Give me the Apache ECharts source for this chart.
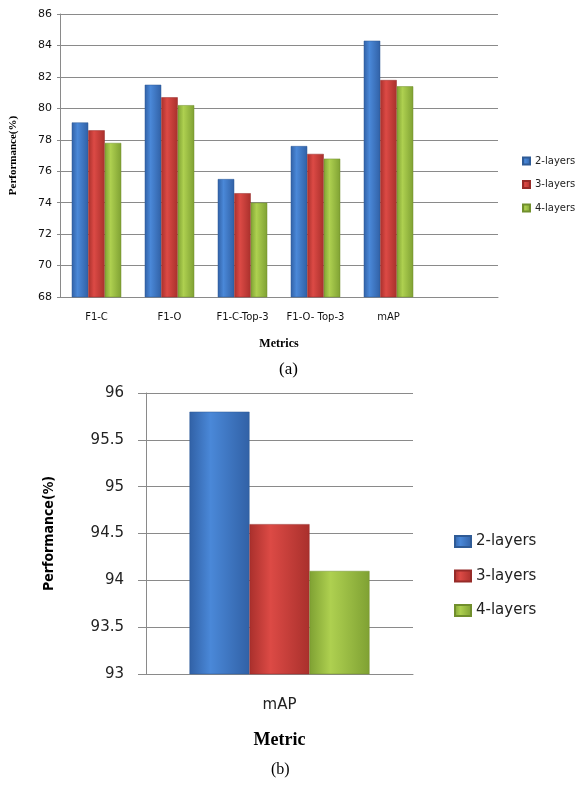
<!DOCTYPE html>
<html>
<head>
<meta charset="utf-8">
<script src="https://cdn.jsdelivr.net/npm/echarts@6/dist/echarts.min.js"></script>
<style>
  html, body { margin: 0; padding: 0; background: #fff; }
  #chart { width: 577px; height: 789px; }
</style>
</head>
<body>
<div id="chart"></div>
<script>
// (a) per metric
const categories = ['F1-C', 'F1-O', 'F1-C-Top-3', 'F1-O- Top-3', 'mAP', '']
const layers2 = [79.1, 81.5, 75.5, 77.6, 84.3]
const layers3 = [78.6, 80.7, 74.6, 77.1, 81.8]
const layers4 = [77.8, 80.2, 74.0, 76.8, 81.4]
const yTicksA = [68, 86, 2]   // min, max, step

// (b) single metric
const categoriesB = ['mAP']
const map2 = [95.8]
const map3 = [94.6]
const map4 = [94.1]
const yTicksB = [93, 96, 0.5]

const names = ['2-layers', '3-layers', '4-layers']

// excel-ish shaded bars
const grad = (a, b) => ({
    type: 'linear', x: 0, y: 0, x2: 1, y2: 0,
    colorStops: [ { offset: 0, color: b }, { offset: 0.35, color: a }, { offset: 1, color: b } ]
})
const fills = [ grad('#4a88d8', '#3161a6'), grad('#dc4a45', '#a9302c'), grad('#aed050', '#7fa133') ]
const edges = [ '#2f5b96', '#962b28', '#718f2d' ]

const chart = echarts.init(document.getElementById('chart'), null, { renderer: 'canvas' })

const bar = (i, data, axis, width) => ({
    name: names[i], type: 'bar', data: data,
    xAxisIndex: axis, yAxisIndex: axis,
    barWidth: width, barGap: '0%',
    itemStyle: { color: fills[i], borderColor: edges[i], borderWidth: 0.5 },
    emphasis: { disabled: true }
})

const gridLine = { show: true, lineStyle: { color: '#8a8a8a', width: 1 } }

chart.setOption({
    animation: false,
    title: [
        { text: '(a)', left: 'center', top: 356, textStyle: { fontFamily: 'Liberation Serif', fontWeight: 'normal', fontSize: 17, color: '#000' } },
        { text: '(b)', left: 266, top: 757, textStyle: { fontFamily: 'Liberation Serif', fontWeight: 'normal', fontSize: 16, color: '#000' } }
    ],
    legend: [
        {
            data: names, orient: 'vertical', left: 517, top: 151,
            itemWidth: 7, itemHeight: 7, itemGap: 13.5, icon: 'rect',
            textStyle: { fontFamily: 'DejaVu Sans', fontSize: 10, color: '#222' }
        },
        {
            data: names, orient: 'vertical', left: 449, top: 529,
            itemWidth: 16, itemHeight: 11, itemGap: 19.5, icon: 'rect',
            textStyle: { fontFamily: 'DejaVu Sans', fontSize: 15, color: '#222' }
        }
    ],
    grid: [
        { left: 60, top: 14, width: 438, height: 283 },
        { left: 146, top: 393, width: 267, height: 281 }
    ],
    xAxis: [
        {
            type: 'category', gridIndex: 0, data: categories,
            axisLine: { lineStyle: { color: '#8a8a8a' } }, axisTick: { show: false },
            axisLabel: { fontFamily: 'DejaVu Sans', fontSize: 10, color: '#111', margin: 15, interval: 0 },
            name: 'Metrics', nameLocation: 'middle', nameGap: 41,
            nameTextStyle: { fontFamily: 'Liberation Serif', fontWeight: 'bold', fontSize: 12, color: '#000' }
        },
        {
            type: 'category', gridIndex: 1, data: categoriesB,
            axisLine: { lineStyle: { color: '#8a8a8a' } }, axisTick: { show: false },
            axisLabel: { fontFamily: 'DejaVu Sans', fontSize: 15, color: '#222', margin: 24 },
            name: 'Metric', nameLocation: 'middle', nameGap: 57,
            nameTextStyle: { fontFamily: 'Liberation Serif', fontWeight: 'bold', fontSize: 18, color: '#000' }
        }
    ],
    yAxis: [
        {
            type: 'value', gridIndex: 0, min: yTicksA[0], max: yTicksA[1], interval: yTicksA[2],
            axisLine: { show: true, lineStyle: { color: '#8a8a8a' } },
            axisTick: { show: true, length: 3, lineStyle: { color: '#8a8a8a' } },
            axisLabel: { fontFamily: 'DejaVu Sans', fontSize: 11, color: '#111', margin: 8 },
            splitLine: gridLine,
            name: 'Performance(%)', nameLocation: 'middle', nameGap: 41,
            nameTextStyle: { fontFamily: 'Liberation Serif', fontWeight: 'bold', fontSize: 11, color: '#000' }
        },
        {
            type: 'value', gridIndex: 1, min: yTicksB[0], max: yTicksB[1], interval: yTicksB[2],
            axisLine: { show: true, lineStyle: { color: '#8a8a8a' } },
            axisTick: { show: true, length: 8, lineStyle: { color: '#8a8a8a' } },
            axisLabel: { fontFamily: 'DejaVu Sans', fontSize: 15, color: '#222', margin: 22 },
            splitLine: gridLine,
            name: 'Performance(%)', nameLocation: 'middle', nameGap: 90,
            nameTextStyle: { fontFamily: 'DejaVu Sans Condensed', fontWeight: 'bold', fontSize: 14, color: '#000' }
        }
    ],
    series: [
        bar(0, layers2, 0, 16.5), bar(1, layers3, 0, 16.5), bar(2, layers4, 0, 16.5),
        bar(0, map2, 1, 60), bar(1, map3, 1, 60), bar(2, map4, 1, 60)
    ]
})
</script>
</body>
</html>
